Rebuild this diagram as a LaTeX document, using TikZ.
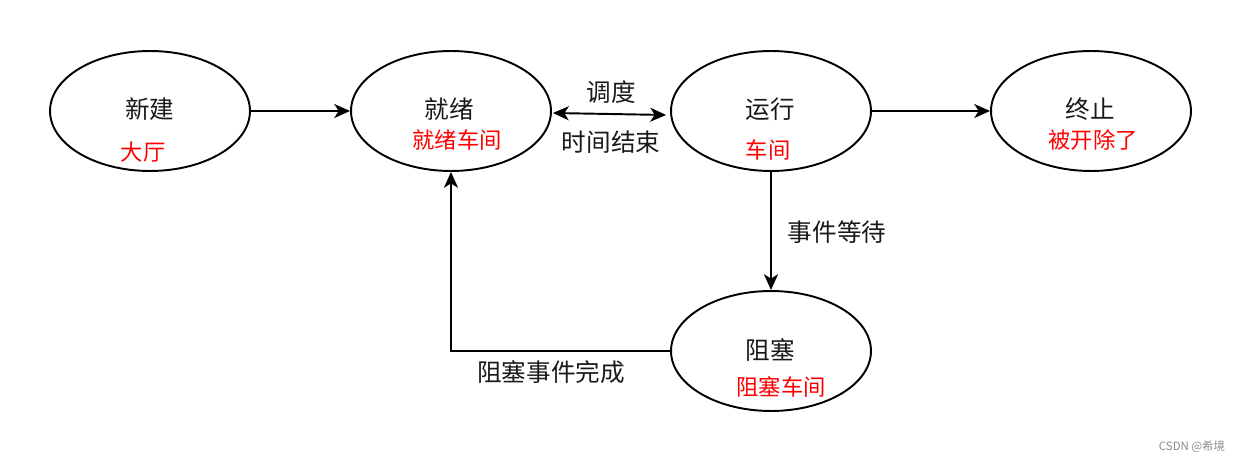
\documentclass[tikz,border=0pt]{standalone}
\usepackage{fontspec}
\setmainfont{Noto Sans CJK SC}
\usetikzlibrary{arrows.meta,calc,shapes.geometric}
\definecolor{hired}{RGB}{255,0,0}
\begin{document}
\begin{tikzpicture}[x=0.02cm, y=-0.02cm, line width=1.1pt,
  state/.style = {ellipse, draw, minimum width=4cm, minimum height=2.4cm, inner sep=0pt},
  txt/.style = {font=\fontsize{14}{16}\selectfont, text=black!90, inner sep=1pt},
  sub/.style = {font=\fontsize{12.7}{15}\selectfont, text=hired, inner sep=1pt},
  arr/.style = {-{Stealth[length=9pt,width=8pt,inset=2.5pt]}},
  darr/.style = {{Stealth[length=9pt,width=8pt,inset=2.5pt]}-{Stealth[length=9pt,width=8pt,inset=2.5pt]}}]
\useasboundingbox (0,0) rectangle (1242,462);
\node[state] (new) at (150,111) {};
\node[state] (ready) at (451,111) {};
\node[state] (run) at (771,111) {};
\node[state] (term) at (1091,111) {};
\node[state] (block) at (771,351) {};
\node[txt] (tnew) at (150,109) {新建};
\node[sub] (snew) at (143,152) {大厅};
\node[txt] (tready) at (449,109) {就绪};
\node[sub] (sready) at (457,140) {就绪车间};
\node[txt] (trun) at (770,109) {运行};
\node[sub] (srun) at (768,150) {车间};
\node[txt] (tterm) at (1090,109) {终止};
\node[sub] (sterm) at (1093,140) {被开除了};
\node[txt] (tblock) at (770,350) {阻塞};
\node[sub] (sblock) at (781,387) {阻塞车间};
\draw[arr] (new) -- (ready);
\draw[arr] (run) -- (term);
\draw[arr] (run) -- (block);
\coordinate (dl) at ($(ready.east)+(1,2)$);
\coordinate (dr) at ($(run.west)+(-4,4)$);
\draw[darr] (dl) -- (dr);
\draw[arr] (block.west) -| (ready.south);
\node[txt] (lsched) at (611,92) {调度};
\node[txt] (ltime) at (611,142) {时间结束};
\node[txt] (lwait) at (837,232) {事件等待};
\node[txt] (ldone) at (551,372) {阻塞事件完成};
\node[font=\fontsize{6.5}{8}\selectfont, text=black!45] (mark) at (1192,447) {CSDN @希境};
\end{tikzpicture}
\end{document}
